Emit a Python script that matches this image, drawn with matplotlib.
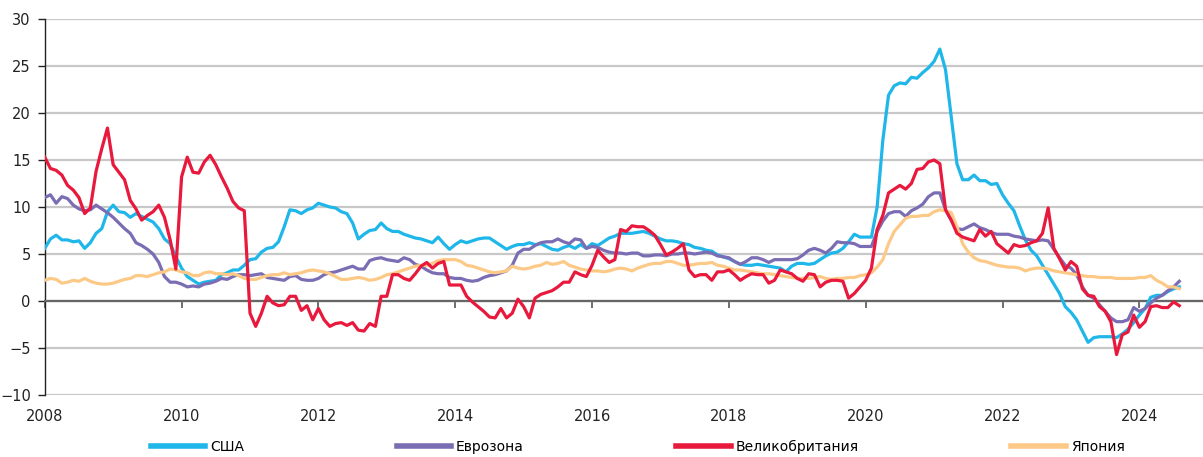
import matplotlib.pyplot as plt
import numpy as np

# monthly values, Jan 2008 - Aug 2024, % y/y
usa = [
    5.6, 6.6, 7.0, 6.5, 6.5, 6.3, 6.4, 5.6, 6.2, 7.2, 7.7, 9.5,
    10.2, 9.5, 9.4, 8.9, 9.3, 9.0, 8.7, 8.4, 7.7, 6.6, 6.1, 4.7,
    3.5, 2.6, 2.2, 1.8, 2.0, 2.1, 2.2, 2.8, 3.0, 3.3, 3.3, 3.8,
    4.4, 4.5, 5.2, 5.6, 5.7, 6.3, 7.9, 9.7, 9.6, 9.3, 9.7, 9.9,
    10.4, 10.2, 10.0, 9.9, 9.5, 9.3, 8.3, 6.6, 7.1, 7.5, 7.6, 8.3,
    7.7, 7.4, 7.4, 7.1, 6.9, 6.7, 6.6, 6.4, 6.2, 6.8, 6.1, 5.5,
    6.0, 6.4, 6.2, 6.4, 6.6, 6.7, 6.7, 6.3, 5.9, 5.5, 5.8, 6.0,
    6.0, 6.2, 6.0, 6.1, 5.8, 5.5, 5.4, 5.7, 5.9, 5.6, 6.0, 5.6,
    6.1, 5.9, 6.3, 6.7, 6.9, 7.2, 7.2, 7.2, 7.3, 7.4, 7.2, 6.9,
    6.6, 6.4, 6.4, 6.3, 6.1, 6.0, 5.7, 5.6, 5.4, 5.3, 4.9, 4.7,
    4.5, 4.2, 3.9, 3.8, 3.8, 3.9, 3.8, 3.7, 3.6, 3.5, 3.1, 3.7,
    4.0, 4.0, 3.9, 4.0, 4.4, 4.8, 5.1, 5.2, 5.6, 6.3, 7.1, 6.8,
    6.8, 6.8, 10.0, 17.1, 21.9, 22.9, 23.2, 23.1, 23.8, 23.7, 24.3, 24.8,
    25.5, 26.8, 24.6, 19.6, 14.6, 12.9, 12.9, 13.4, 12.8, 12.8, 12.4, 12.5,
    11.3, 10.4, 9.6, 8.0, 6.5, 5.4, 4.8, 3.8, 2.8, 1.8, 0.8, -0.6,
    -1.2, -2.0, -3.2, -4.4, -3.9, -3.8, -3.8, -3.8, -3.9, -3.5, -3.0, -2.3,
    -1.5, -0.8, 0.4, 0.6, 0.6, 1.0, 1.3, 1.5,
]
euro = [
    11.0, 11.3, 10.4, 11.1, 10.9, 10.2, 9.8, 9.6, 9.7, 10.2, 9.8, 9.4,
    8.9, 8.3, 7.7, 7.2, 6.2, 5.9, 5.5, 5.0, 4.1, 2.6, 2.0, 2.0,
    1.8, 1.5, 1.6, 1.5, 1.8, 1.9, 2.1, 2.4, 2.3, 2.6, 2.8, 2.8,
    2.7, 2.8, 2.9, 2.5, 2.4, 2.3, 2.2, 2.6, 2.7, 2.3, 2.2, 2.2,
    2.4, 2.8, 3.0, 3.1, 3.3, 3.5, 3.7, 3.4, 3.4, 4.3, 4.5, 4.6,
    4.4, 4.3, 4.2, 4.6, 4.4, 3.9, 3.7, 3.3, 3.0, 2.9, 2.9, 2.5,
    2.4, 2.4, 2.2, 2.1, 2.2, 2.5, 2.7, 2.8, 3.0, 3.2, 3.8, 5.1,
    5.5, 5.5, 5.9, 6.2, 6.3, 6.3, 6.6, 6.3, 6.1, 6.6, 6.5, 5.6,
    5.8, 5.7, 5.4, 5.2, 5.1, 5.1, 5.0, 5.1, 5.1, 4.8, 4.8, 4.9,
    4.9, 4.8, 5.0, 5.0, 5.1, 5.1, 5.0, 5.1, 5.2, 5.1, 4.8, 4.7,
    4.6, 4.2, 3.9, 4.2, 4.6, 4.6, 4.4, 4.1, 4.4, 4.4, 4.4, 4.4,
    4.5, 4.9, 5.4, 5.6, 5.4, 5.1, 5.6, 6.3, 6.2, 6.2, 6.1, 5.8,
    5.8, 5.8, 7.4, 8.5, 9.3, 9.5, 9.5, 9.0, 9.6, 9.9, 10.3, 11.1,
    11.5, 11.5, 9.7, 8.6, 7.7, 7.6, 7.9, 8.2, 7.8, 7.6, 7.3, 7.1,
    7.1, 7.1, 6.9, 6.8, 6.6, 6.5, 6.4, 6.5, 6.4, 5.5, 4.6, 3.8,
    3.5, 2.8, 1.5, 0.6, 0.3, -0.4, -1.1, -1.8, -2.2, -2.2, -2.0, -0.7,
    -1.1, -0.8, -0.2, 0.3, 0.6, 1.1, 1.5, 2.1,
]
uk = [
    15.3, 14.1, 13.9, 13.4, 12.3, 11.8, 11.0, 9.3, 9.9, 13.8, 16.2, 18.4,
    14.5, 13.7, 12.9, 10.7, 9.8, 8.6, 9.1, 9.5, 10.2, 8.9, 6.5, 3.4,
    13.2, 15.3, 13.7, 13.6, 14.8, 15.5, 14.5, 13.2, 12.0, 10.6, 9.9, 9.6,
    -1.3, -2.7, -1.3, 0.5, -0.2, -0.5, -0.4, 0.5, 0.5, -1.0, -0.5, -2.0,
    -0.8, -2.0, -2.7, -2.4, -2.3, -2.6, -2.3, -3.1, -3.2, -2.4, -2.7, 0.5,
    0.5, 2.8, 2.8, 2.4, 2.2, 2.9, 3.7, 4.1, 3.5, 4.0, 4.2, 1.7,
    1.7, 1.7, 0.5, -0.1, -0.6, -1.1, -1.7, -1.8, -0.8, -1.8, -1.3, 0.2,
    -0.6, -1.8, 0.3, 0.7, 0.9, 1.1, 1.5, 2.0, 2.0, 3.1, 2.8, 2.6,
    3.8, 5.4, 4.7, 4.1, 4.4, 7.6, 7.4, 8.0, 7.9, 7.9, 7.5, 7.0,
    6.0, 4.9, 5.2, 5.6, 6.1, 3.3, 2.6, 2.8, 2.8, 2.2, 3.1, 3.1,
    3.3, 2.8, 2.2, 2.6, 2.9, 2.8, 2.8, 1.9, 2.2, 3.3, 3.1, 2.9,
    2.4, 2.1, 2.9, 2.8, 1.5, 2.0, 2.2, 2.2, 2.1, 0.3, 0.8, 1.5,
    2.2, 3.5, 7.6, 9.1, 11.5, 11.9, 12.3, 11.9, 12.5, 14.0, 14.1, 14.8,
    15.0, 14.6, 9.7, 8.6, 7.2, 6.8, 6.6, 6.4, 7.6, 6.9, 7.4, 6.1,
    5.6, 5.1, 6.0, 5.8, 5.9, 6.2, 6.4, 7.2, 9.9, 5.6, 4.5, 3.3,
    4.2, 3.7, 1.3, 0.6, 0.5, -0.6, -1.1, -2.2, -5.7, -3.6, -3.3, -1.5,
    -2.8, -2.2, -0.6, -0.5, -0.7, -0.7, -0.1, -0.5,
]
japan = [
    2.2, 2.4, 2.3, 1.9, 2.0, 2.2, 2.1, 2.4, 2.1, 1.9, 1.8, 1.8,
    1.9, 2.1, 2.3, 2.4, 2.7, 2.7, 2.6, 2.8, 3.0, 3.1, 3.4, 3.3,
    3.1, 3.0, 2.7, 2.7, 3.0, 3.1, 2.9, 2.9, 2.8, 2.9, 2.7, 2.4,
    2.3, 2.3, 2.5, 2.7, 2.8, 2.8, 3.0, 2.8, 2.9, 3.0, 3.2, 3.3,
    3.2, 3.1, 2.9, 2.6, 2.3, 2.3, 2.4, 2.5, 2.4, 2.2, 2.3, 2.5,
    2.8, 2.9, 3.1, 3.3, 3.5, 3.7, 3.8, 3.8, 4.0, 4.3, 4.4, 4.4,
    4.4, 4.2, 3.8, 3.7, 3.5, 3.3, 3.1, 3.0, 3.1, 3.2, 3.7, 3.5,
    3.4, 3.5, 3.7, 3.8, 4.1, 3.9, 4.0, 4.2, 3.8, 3.6, 3.4, 3.3,
    3.2, 3.2, 3.1, 3.2, 3.4, 3.5, 3.4, 3.2, 3.5, 3.7, 3.9, 4.0,
    4.0, 4.2, 4.2, 4.0, 3.8, 3.8, 3.9, 4.0, 4.0, 4.1, 3.8, 3.7,
    3.5, 3.3, 3.3, 3.2, 3.1, 3.0, 2.9, 2.9, 2.8, 2.7, 2.6, 2.5,
    2.4, 2.4, 2.4, 2.5, 2.6, 2.4, 2.3, 2.4, 2.4, 2.5, 2.5, 2.7,
    2.8, 3.0, 3.6, 4.4, 6.1, 7.4, 8.1, 8.8, 9.0, 9.0, 9.1, 9.1,
    9.5, 9.7, 9.6, 9.4, 7.9, 6.1, 5.2, 4.6, 4.3, 4.2, 4.0, 3.8,
    3.7, 3.6, 3.6, 3.5, 3.2, 3.4, 3.5, 3.5, 3.4, 3.2, 3.1, 3.0,
    2.9, 2.8, 2.7, 2.6, 2.6, 2.5, 2.5, 2.5, 2.4, 2.4, 2.4, 2.4,
    2.5, 2.5, 2.7, 2.2, 1.9, 1.5, 1.5, 1.3,
]

series = [
    ("США", usa, "#1fb6ea"),
    ("Еврозона", euro, "#7a6db3"),
    ("Великобритания", uk, "#e8193c"),
    ("Япония", japan, "#fdc987"),
]
zorders = {"США": 3, "Еврозона": 3, "Великобритания": 5, "Япония": 4}

years = 2008 + np.arange(len(usa)) / 12

plt.rcParams['font.family'] = ['Liberation Sans Narrow', 'DejaVu Sans']
fig = plt.figure(figsize=(12.03, 4.57), dpi=100)
ax = fig.add_axes([0.0372, 0.1357, 0.9628, 0.8227])

for name, vals, color in series:
    ax.plot(years, vals, color=color, lw=2.3, label=name, zorder=zorders[name])

ax.set_xlim(2008, 2024.93)
ax.set_ylim(-10, 30)
ax.set_xticks(range(2008, 2025, 2))
ax.set_yticks(range(-10, 31, 5))

ax.grid(axis='y', color='#c8c8c8', lw=1.6)
ax.set_axisbelow(True)
for side in ['top', 'right']:
    ax.spines[side].set_visible(False)
ax.spines['bottom'].set_position(('data', 0))
ax.spines['bottom'].set_color('#666666')
ax.spines['bottom'].set_linewidth(1.6)
ax.spines['left'].set_color('#222222')
ax.spines['left'].set_linewidth(1.0)

ax.tick_params(axis='x', direction='out', length=5, width=1.2, color='#555555',
               pad=73, labelsize=10.5, labelcolor='#222222')
ax.tick_params(axis='y', direction='out', length=5, width=1.0, color='#222222',
               pad=5, labelsize=10.5, labelcolor='#222222')

leg = fig.legend(loc='center', bbox_to_anchor=(0.53, 0.022), ncol=4, frameon=False,
                 handlelength=3.9, handletextpad=0.36, columnspacing=11.0, fontsize=10)
for line in leg.get_lines():
    line.set_linewidth(4)

fig.savefig("out.png", dpi=100)
